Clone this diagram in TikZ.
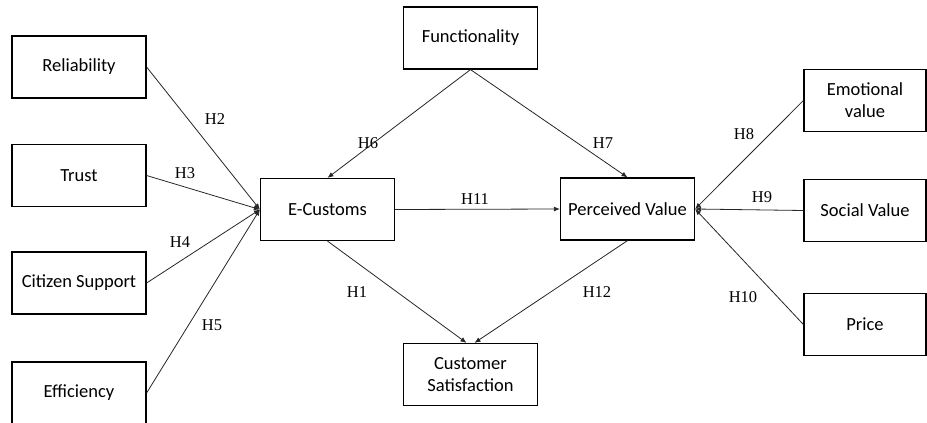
\documentclass[tikz,border=0pt]{standalone}
\usepackage{fontspec}
\setmainfont{Carlito}
\newfontfamily\hfont{Liberation Serif}
\usetikzlibrary{arrows.meta}
\begin{document}
\begin{tikzpicture}[x=1pt,y=-1pt,
  box/.style={draw=black,line width=1.2pt,minimum width=134pt,minimum height=62pt,inner sep=2pt,align=center,font=\fontsize{18.5}{22}\selectfont},
  rbox/.style={box,minimum width=122pt},
  conn/.style={draw=black!85,line width=0.8pt,-{Latex[length=6pt,width=5pt]}},
  hlab/.style={font=\hfont\fontsize{16.5}{18}\selectfont,inner sep=0pt}]
\useasboundingbox (0,0) rectangle (927,423);
\node[box] (rel) at (79,67) {Reliability};
\node[box] (tru) at (79,175.5) {Trust};
\node[box] (cit) at (79,283) {Citizen Support};
\node[box] (eff) at (79,393) {Efficiency};
\node[box] (ecu) at (327.5,209.5) {E-Customs};
\node[box] (fun) at (470.5,38) {Functionality};
\node[box] (pv) at (627.5,209) {Perceived Value};
\node[box] (cs) at (470.5,374.5) {Customer\\Satisfaction};
\node[rbox] (emo) at (865,100.5) {Emotional\\value};
\node[rbox] (soc) at (865,210.5) {Social Value};
\node[rbox] (pri) at (865,324.5) {Price};
\draw[conn] (rel.east) -- (ecu.west);
\draw[conn] (tru.east) -- (ecu.west);
\draw[conn] (cit.east) -- (ecu.west);
\draw[conn] (eff.east) -- (ecu.west);
\draw[conn] (fun.south) -- (ecu.north);
\draw[conn] (fun.south) -- (pv.north);
\draw[conn] (ecu.east) -- (pv.west);
\draw[conn] (ecu.south) -- ([xshift=-4pt]cs.north);
\draw[conn] (pv.south) -- ([xshift=4pt]cs.north);
\draw[conn] (emo.west) -- (pv.east);
\draw[conn] (soc.west) -- (pv.east);
\draw[conn] (pri.west) -- (pv.east);
\node[hlab] (h2) at (215,119) {H2};
\node[hlab] (h3) at (185,173) {H3};
\node[hlab] (h4) at (180,242) {H4};
\node[hlab] (h5) at (212,325) {H5};
\node[hlab] (h6) at (368,143) {H6};
\node[hlab] (h7) at (603,143) {H7};
\node[hlab] (h11) at (475,199) {H11};
\node[hlab] (h1) at (357,292) {H1};
\node[hlab] (h12) at (597,292) {H12};
\node[hlab] (h8) at (744,134) {H8};
\node[hlab] (h9) at (762,197) {H9};
\node[hlab] (h10) at (743,297) {H10};
\end{tikzpicture}
\end{document}
